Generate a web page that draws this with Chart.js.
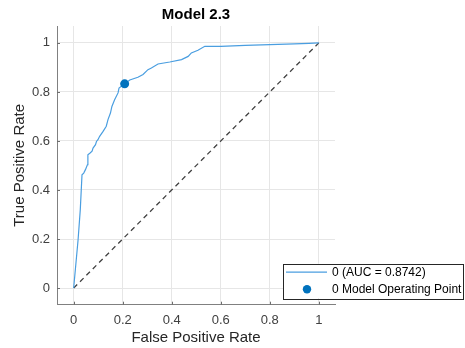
<!DOCTYPE html>
<html>
<head>
<meta charset="utf-8">
<title>Model 2.3 ROC</title>
<script src="https://cdn.jsdelivr.net/npm/chart.js@4.4.1/dist/chart.umd.min.js"></script>
<style>
  html, body { margin: 0; padding: 0; background: #ffffff; }
  canvas { display: block; }
</style>
</head>
<body>
<canvas id="roc" width="465" height="348"></canvas>
<script>
// ROC curve points (false positive rate, true positive rate)
const fprValues = [0, 0.018, 0.027, 0.034, 0.041, 0.048, 0.056, 0.058, 0.067, 0.075,
  0.079, 0.089, 0.093, 0.099, 0.106, 0.120, 0.133, 0.140, 0.150, 0.156,
  0.167, 0.181, 0.185, 0.208, 0.229, 0.262, 0.283, 0.303, 0.317, 0.344,
  0.392, 0.440, 0.467, 0.480, 0.507, 0.535, 0.600, 0.700, 0.800, 0.900,
  0.960, 1];
const tprValues = [0, 0.197, 0.320, 0.462, 0.469, 0.483, 0.503, 0.544, 0.551, 0.558,
  0.571, 0.585, 0.598, 0.605, 0.619, 0.639, 0.660, 0.687, 0.714, 0.741,
  0.768, 0.796, 0.816, 0.833, 0.849, 0.860, 0.871, 0.891, 0.898, 0.914,
  0.922, 0.932, 0.945, 0.959, 0.970, 0.986, 0.986, 0.990, 0.993, 0.996,
  0.998, 1];

// Model operating point
const operatingFpr = [0.208];
const operatingTpr = [0.833];

// Chance line
const chanceFpr = [0, 1];
const chanceTpr = [0, 1];

// Axis ticks
const xTickValues = [0, 0.2, 0.4, 0.6, 0.8, 1];
const xTickLabels = ['0', '0.2', '0.4', '0.6', '0.8', '1'];
const yTickValues = [0, 0.2, 0.4, 0.6, 0.8, 1];
const yTickLabels = ['0', '0.2', '0.4', '0.6', '0.8', '1'];

const chartTitle = 'Model 2.3';
const curveLabel = '0 (AUC = 0.8742)';
const pointLabel = '0 Model Operating Point';

const FONT = "'Liberation Sans', Arial, Helvetica, sans-serif";
const toPoints = (xs, ys) => xs.map((x, i) => ({ x: x, y: ys[i] }));

// Title centred over the plotting area
const areaTitle = {
  id: 'areaTitle',
  afterDraw(chart) {
    const ctx = chart.ctx;
    const area = chart.chartArea;
    ctx.save();
    ctx.fillStyle = '#000000';
    ctx.font = 'bold 15px ' + FONT;
    ctx.textAlign = 'center';
    ctx.textBaseline = 'middle';
    ctx.fillText(chartTitle, (area.left + area.right) / 2, 15);
    ctx.restore();
  }
};

// Inward tick marks on the left and bottom axes
const innerTicks = {
  id: 'innerTicks',
  afterDatasetsDraw(chart) {
    const ctx = chart.ctx;
    const xs = chart.scales.x, ys = chart.scales.y;
    const area = chart.chartArea;
    ctx.save();
    ctx.strokeStyle = '#6e6e6e';
    ctx.lineWidth = 1;
    ctx.beginPath();
    xTickValues.forEach(v => {
      const px = Math.round(xs.getPixelForValue(v)) + 0.5;
      ctx.moveTo(px, area.bottom);
      ctx.lineTo(px, area.bottom - 3);
    });
    yTickValues.forEach(v => {
      const py = Math.round(ys.getPixelForValue(v)) + 0.5;
      ctx.moveTo(area.left, py);
      ctx.lineTo(area.left + 3, py);
    });
    ctx.stroke();
    ctx.restore();
  }
};

// Boxed legend in the lower right corner, overlapping the axes
const boxLegend = {
  id: 'boxLegend',
  afterDraw(chart) {
    const ctx = chart.ctx;
    const area = chart.chartArea;
    const left = area.right - 52, right = 464;
    const top = area.bottom - 41, bottom = area.bottom - 6.5;
    const row1 = top + 8.5, row2 = top + 25.5;
    ctx.save();
    ctx.fillStyle = '#ffffff';
    ctx.fillRect(left, top, right - left, bottom - top);
    ctx.strokeStyle = '#262626';
    ctx.lineWidth = 1;
    ctx.strokeRect(Math.round(left) + 0.5, Math.round(top) + 0.5,
      Math.round(right - left) - 1, Math.round(bottom - top));
    const ds = chart.data.datasets;
    // line sample
    ctx.strokeStyle = ds[0].borderColor;
    ctx.lineWidth = 1.2;
    ctx.beginPath();
    ctx.moveTo(left + 3, row1);
    ctx.lineTo(left + 44, row1);
    ctx.stroke();
    // marker sample
    ctx.fillStyle = ds[1].backgroundColor;
    ctx.beginPath();
    ctx.arc(left + 24, row2, 4.2, 0, Math.PI * 2);
    ctx.fill();
    // labels
    ctx.fillStyle = '#000000';
    ctx.font = '12px ' + FONT;
    ctx.textBaseline = 'middle';
    ctx.textAlign = 'left';
    ctx.fillText(ds[0].label, left + 49, row1);
    ctx.fillText(ds[1].label, left + 49, row2);
    ctx.restore();
  }
};

new Chart(document.getElementById('roc'), {
  type: 'scatter',
  data: {
    datasets: [
      {
        label: curveLabel,
        data: toPoints(fprValues, tprValues),
        showLine: true,
        borderColor: '#4a9ee0',
        borderWidth: 1.2,
        pointRadius: 0,
        fill: false,
        order: 1
      },
      {
        label: pointLabel,
        data: toPoints(operatingFpr, operatingTpr),
        backgroundColor: '#0072bd',
        borderColor: '#0072bd',
        pointRadius: 4.5,
        borderWidth: 0,
        order: 0
      },
      {
        label: 'chance',
        data: toPoints(chanceFpr, chanceTpr),
        showLine: true,
        borderColor: '#404040',
        borderWidth: 1.3,
        borderDash: [5, 4],
        pointRadius: 0,
        fill: false,
        order: 2
      }
    ]
  },
  options: {
    responsive: false,
    animation: false,
    devicePixelRatio: 1,
    layout: { padding: { left: 0, right: 130, top: 26, bottom: 0 } },
    plugins: {
      legend: { display: false },
      tooltip: { enabled: false },
      title: { display: false }
    },
    scales: {
      x: {
        type: 'linear',
        min: -0.068,
        max: 1.066,
        afterBuildTicks: s => { s.ticks = xTickValues.map(v => ({ value: v })); },
        afterFit: s => { s.height = 43.3; },
        ticks: {
          color: '#404040',
          font: { family: FONT, size: 13 },
          padding: 8,
          maxRotation: 0,
          callback: v => xTickLabels[xTickValues.indexOf(v)]
        },
        grid: { color: '#e6e6e6', drawTicks: false },
        border: { color: '#808080' },
        title: {
          display: true,
          text: 'False Positive Rate',
          color: '#262626',
          font: { family: FONT, size: 15 },
          padding: { top: 0, bottom: 1 }
        }
      },
      y: {
        type: 'linear',
        min: -0.068,
        max: 1.069,
        afterBuildTicks: s => { s.ticks = yTickValues.map(v => ({ value: v })); },
        afterFit: s => { s.width = 57; },
        ticks: {
          color: '#404040',
          font: { family: FONT, size: 13 },
          padding: 7,
          callback: v => yTickLabels[yTickValues.indexOf(v)]
        },
        grid: { color: '#e6e6e6', drawTicks: false },
        border: { color: '#808080' },
        title: {
          display: true,
          text: 'True Positive Rate',
          color: '#262626',
          font: { family: FONT, size: 15 },
          padding: { top: 11, bottom: 0 }
        }
      }
    }
  },
  plugins: [areaTitle, innerTicks, boxLegend]
});
</script>
</body>
</html>
